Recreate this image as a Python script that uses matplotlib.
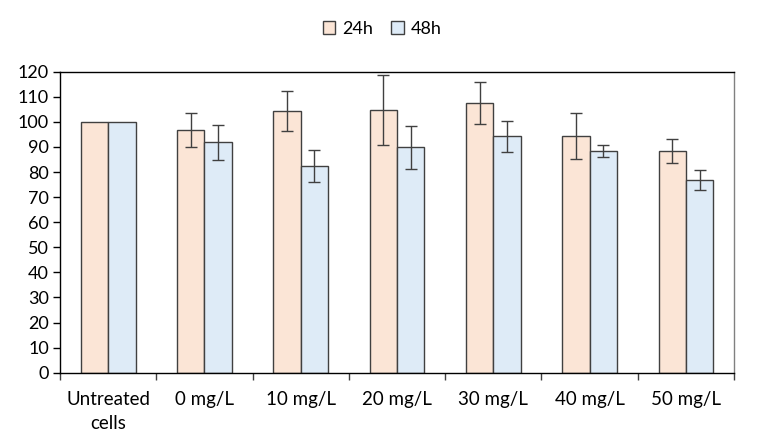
import numpy as np
import matplotlib.pyplot as plt
from matplotlib.ticker import FixedLocator

# Data
categories = ['Untreated\ncells', '0 mg/L', '10 mg/L', '20 mg/L', '30 mg/L', '40 mg/L', '50 mg/L']
vals_24h = [100, 96.6, 104.4, 104.8, 107.4, 94.2, 88.3]
err_24h = [0, 6.8, 8.0, 14.0, 8.4, 9.2, 4.8]
vals_48h = [100, 91.9, 82.3, 89.8, 94.3, 88.3, 76.7]
err_48h = [0, 7.0, 6.4, 8.7, 6.2, 2.3, 4.0]

plt.rcParams['font.family'] = ['Lato', 'DejaVu Sans']

fig = plt.figure(figsize=(7.57, 4.45), dpi=100)
ax = fig.add_axes([0.0793, 0.1625, 0.8903, 0.6764])

x = np.arange(len(categories))
w = 0.284
edge = '#404040'
ekw = dict(ecolor='#404040', elinewidth=1.0, capsize=4, capthick=1.0)

ax.bar(x - w / 2, vals_24h, w, color='#FBE5D6', edgecolor=edge, linewidth=1.0, label='24h')
ax.bar(x + w / 2, vals_48h, w, color='#DEEBF7', edgecolor=edge, linewidth=1.0, label='48h')
ax.errorbar(x[1:] - w / 2, vals_24h[1:], yerr=err_24h[1:], fmt='none', **ekw)
ax.errorbar(x[1:] + w / 2, vals_48h[1:], yerr=err_48h[1:], fmt='none', **ekw)

ax.set_xlim(-0.5, len(categories) - 0.5)
ax.set_ylim(0, 120)
ax.set_yticks(np.arange(0, 121, 10))
ax.set_xticks(x)
ax.set_xticklabels(categories, linespacing=1.5)
ax.xaxis.set_minor_locator(FixedLocator(np.arange(-0.5, len(categories), 1.0)))
ax.tick_params(axis='x', which='major', length=0, pad=13, labelsize=13.5)
ax.tick_params(axis='x', which='minor', length=5, width=1, color='#404040', direction='out')
ax.tick_params(axis='y', length=5, width=1, direction='out', labelsize=13, pad=3)

for s in ['top', 'left', 'bottom']:
    ax.spines[s].set_color('black')
ax.spines['right'].set_color('#808080')
for s in ax.spines.values():
    s.set_linewidth(1.0)

fig.legend(loc='upper center', bbox_to_anchor=(0.505, 0.99), ncol=2, frameon=False,
           fontsize=13, handlelength=0.7, handleheight=0.7, handletextpad=0.4,
           columnspacing=1.0)

fig.savefig('out.png', dpi=100)
